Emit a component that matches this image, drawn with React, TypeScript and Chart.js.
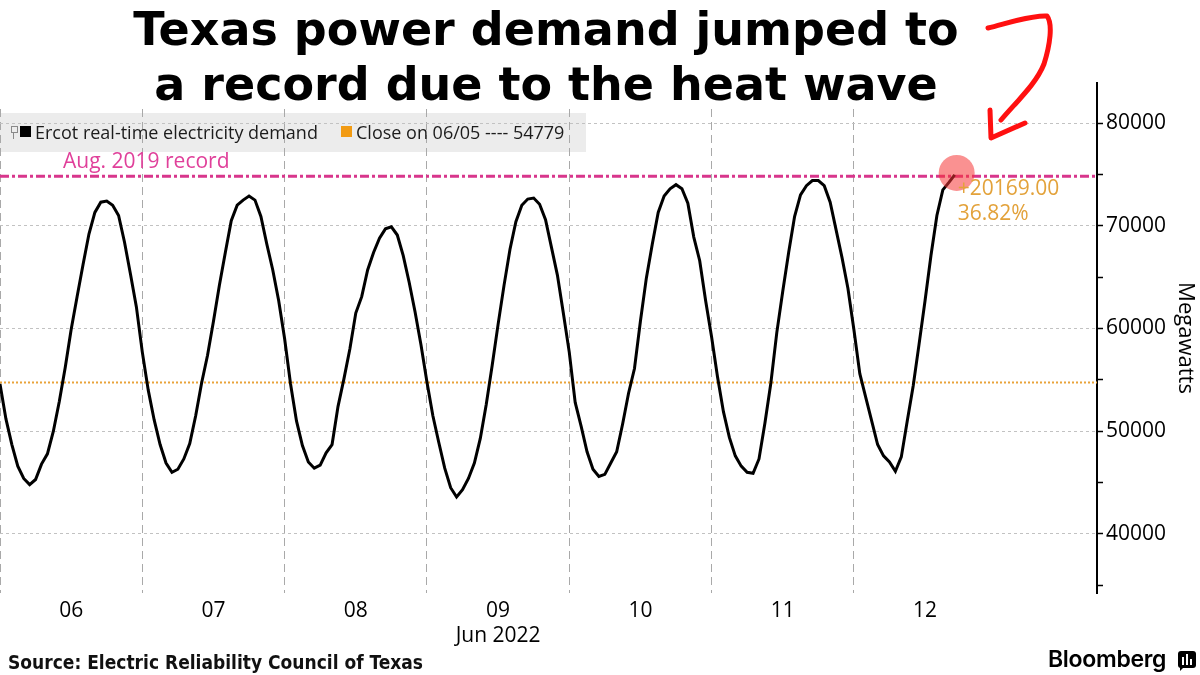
import React, { useEffect, useRef } from "react";
import { Chart, registerables } from "chart.js";

Chart.register(...registerables);

// Hourly ERCOT real-time demand in MW, each array starting at midnight of that day
const demandJun06 = [54600, 51200, 48700, 46600, 45400, 44800, 45300, 46800, 47800, 50000, 52900, 56200, 59900, 63100, 66200, 69200, 71300, 72300, 72400, 72000, 71000, 68400, 65300, 62100];
const demandJun07 = [57700, 54000, 51100, 48700, 46900, 46000, 46300, 47300, 48800, 51500, 54700, 57400, 60700, 64200, 67400, 70500, 72000, 72500, 72900, 72500, 70900, 68200, 65700, 62700];
const demandJun08 = [59000, 54600, 51000, 48600, 47000, 46400, 46700, 47900, 48700, 52400, 55100, 58000, 61500, 63100, 65700, 67400, 68800, 69700, 69900, 69100, 67100, 64500, 61600, 58400];
const demandJun09 = [54800, 51500, 48900, 46400, 44500, 43600, 44300, 45400, 46900, 49300, 52600, 56400, 60400, 64200, 67700, 70400, 72000, 72600, 72700, 72100, 70600, 67900, 65200, 61500];
const demandJun10 = [57700, 52800, 50500, 48000, 46300, 45600, 45800, 46900, 48000, 50700, 53700, 56100, 60700, 64900, 68200, 71300, 72900, 73600, 74000, 73600, 72200, 68900, 66600, 62700];
const demandJun11 = [59200, 55300, 51900, 49400, 47600, 46600, 46000, 45900, 47300, 50800, 54700, 59600, 63600, 67400, 70900, 73000, 73900, 74400, 74400, 73900, 72300, 69600, 66900, 63900];
const demandJun12 = [59900, 55600, 53300, 51000, 48700, 47600, 47000, 46100, 47500, 51000, 54400, 58500, 62700, 67100, 71000, 73500, 74200, 74948];

const dailyDemand = [demandJun06, demandJun07, demandJun08, demandJun09, demandJun10, demandJun11, demandJun12];
const dayLabels = ["06", "07", "08", "09", "10", "11", "12"];
const monthLabel = "Jun 2022";
const monthLabelDay = "09";

const prevCloseDate = "06/05";
const prevClose = 54779;
const record2019 = 74820;
const recordLabel = "Aug. 2019 record";

const yTickValues = [35000, 40000, 45000, 50000, 55000, 60000, 65000, 70000, 75000, 80000];
const yMin = 34250;
const yMax = 83900;
const xMaxHours = 185;

const seriesName = "Ercot real-time electricity demand";

const points = dailyDemand.flatMap((day, d) => day.map((v, h) => ({ x: d * 24 + h, y: v })));
const lastValue = points[points.length - 1].y;
const change = lastValue - prevClose;
const changePct = (change / prevClose) * 100;

const OPEN = '"Open Sans", "DejaVu Sans", sans-serif';

const annotationPlugin = {
  id: "ercotAnnotations",
  beforeDraw(chart: any) {
    const { ctx } = chart;
    ctx.save();
    ctx.fillStyle = "#ececec";
    ctx.fillRect(0, 113, 586, 39);
    ctx.restore();
  },
  beforeDatasetsDraw(chart: any) {
    const { ctx, chartArea, scales } = chart;
    const y = scales.y;
    ctx.save();
    // previous close level
    const yc = Math.round(y.getPixelForValue(prevClose)) + 0.5;
    ctx.strokeStyle = "#E9A33A";
    ctx.lineWidth = 2;
    ctx.setLineDash([2, 2]);
    ctx.beginPath();
    ctx.moveTo(chartArea.left, yc);
    ctx.lineTo(chartArea.right, yc);
    ctx.stroke();
    // 2019 record level
    const yr = y.getPixelForValue(record2019);
    ctx.strokeStyle = "#D8368C";
    ctx.lineWidth = 3;
    ctx.setLineDash([9, 3, 3, 3]);
    ctx.beginPath();
    ctx.moveTo(chartArea.left, yr);
    ctx.lineTo(chartArea.right, yr);
    ctx.stroke();
    ctx.setLineDash([]);
    ctx.fillStyle = "#E0409A";
    ctx.font = `21px ${OPEN}`;
    ctx.textBaseline = "alphabetic";
    ctx.fillText(recordLabel, 63, yr - 8);
    ctx.restore();
  },
  afterDatasetsDraw(chart: any) {
    const { ctx } = chart;
    const meta = chart.getDatasetMeta(0);
    const last = meta.data[meta.data.length - 1];
    ctx.save();
    ctx.fillStyle = "rgba(245, 55, 55, 0.55)";
    ctx.beginPath();
    ctx.arc(last.x + 2, last.y - 2, 18, 0, Math.PI * 2);
    ctx.fill();
    ctx.fillStyle = "#E3A23A";
    ctx.font = `21px ${OPEN}`;
    ctx.textBaseline = "alphabetic";
    ctx.fillText(`+${change.toFixed(2)}`, last.x + 3, last.y + 20);
    ctx.fillText(`${changePct.toFixed(2)}%`, last.x + 3, last.y + 45);
    ctx.restore();
  },
};

export default function App() {
  const canvasRef = useRef<HTMLCanvasElement>(null);

  useEffect(() => {
    const chart = new Chart(canvasRef.current as HTMLCanvasElement, {
      type: "line",
      data: {
        datasets: [
          {
            label: seriesName,
            data: points,
            borderColor: "#000000",
            borderWidth: 3,
            pointRadius: 0,
            tension: 0,
            fill: false,
          },
        ],
      },
      options: {
        animation: false,
        responsive: false,
        devicePixelRatio: 1,
        layout: { padding: { top: 83, left: 0, right: 0, bottom: 0 } },
        plugins: { legend: { display: false }, tooltip: { enabled: false } },
        scales: {
          x: {
            type: "linear",
            min: 0,
            max: xMaxHours,
            afterBuildTicks: (scale: any) => {
              const ticks = [];
              for (let i = 0; i < dayLabels.length; i++) {
                ticks.push({ value: i * 24 });
                ticks.push({ value: i * 24 + 12 });
              }
              scale.ticks = ticks;
            },
            afterFit: (scale: any) => {
              scale.height = 82;
              scale.paddingLeft = 0;
              scale.paddingRight = 0;
            },
            ticks: {
              autoSkip: false,
              maxRotation: 0,
              minRotation: 0,
              padding: 5,
              color: "#000",
              font: { family: OPEN, size: 21 },
              callback: (value: any) => {
                const v = Number(value);
                if (v % 24 !== 12) return "";
                const label = dayLabels[Math.floor(v / 24)];
                return label === monthLabelDay ? [label, monthLabel] : label;
              },
            },
            grid: {
              drawTicks: false,
              lineWidth: 1,
              color: (ctx: any) => (ctx.tick && ctx.tick.value % 24 === 0 ? "#a9a9a9" : "rgba(0,0,0,0)"),
            },
            border: { display: false, dash: [8, 5] },
          },
          y: {
            position: "right",
            min: yMin,
            max: yMax,
            afterBuildTicks: (scale: any) => {
              scale.ticks = yTickValues.map((v) => ({ value: v }));
            },
            afterFit: (scale: any) => {
              scale.width = 103;
            },
            ticks: {
              padding: 3,
              color: "#000",
              font: { family: OPEN, size: 21 },
              callback: (value: any) => (Number(value) % 10000 === 0 ? String(value) : ""),
            },
            grid: {
              drawTicks: true,
              tickLength: 6,
              tickWidth: 1.5,
              tickColor: "#000",
              lineWidth: 1,
              color: (ctx: any) => (ctx.tick && ctx.tick.value % 10000 === 0 ? "#c2c2c2" : "rgba(0,0,0,0)"),
            },
            border: { display: true, color: "#000", width: 2, dash: [3, 3] },
            title: {
              display: true,
              text: "Megawatts",
              color: "#000",
              font: { family: OPEN, size: 22 },
              padding: { top: 2, bottom: 2 },
            },
          },
        },
      },
      plugins: [annotationPlugin],
    } as any);
    return () => chart.destroy();
  }, []);

  const legendText: React.CSSProperties = {
    position: "absolute",
    top: 113,
    height: 38,
    lineHeight: "38px",
    fontFamily: OPEN,
    fontSize: 18,
    color: "#1c1c1c",
    whiteSpace: "nowrap",
  };

  return (
    <div style={{ position: "absolute", left: 0, top: 0, width: 1200, height: 675, background: "#fff", overflow: "hidden" }}>
      <canvas ref={canvasRef} width={1200} height={675} style={{ position: "absolute", left: 0, top: 0 }} />

      {/* headline */}
      <div style={{ position: "absolute", left: 0, top: 0, width: 1094, height: 108, background: "#fff" }}>
        <div
          style={{
            position: "absolute",
            left: 0,
            top: 2,
            width: 1092,
            textAlign: "center",
            fontFamily: '"DejaVu Sans", sans-serif',
            fontWeight: 700,
            fontSize: 46,
            lineHeight: "55px",
            color: "#000",
          }}
        >
          <div>Texas power demand jumped to</div>
          <div>a record due to the heat wave</div>
        </div>
      </div>

      {/* legend */}
      <div style={{ position: "absolute", left: 11, top: 126, width: 5, height: 5, border: "1px solid #8a8a8a" }} />
      <div style={{ position: "absolute", left: 13, top: 133, width: 1, height: 6, background: "#8a8a8a" }} />
      <div style={{ position: "absolute", left: 20, top: 126, width: 11, height: 11, background: "#000" }} />
      <div style={{ ...legendText, left: 35 }}>{seriesName}</div>
      <div style={{ position: "absolute", left: 341, top: 126, width: 11, height: 11, background: "#F29B13" }} />
      <div style={{ ...legendText, left: 356 }}>{`Close on ${prevCloseDate} ---- ${prevClose}`}</div>

      {/* hand-drawn pointer */}
      <svg width={1200} height={675} style={{ position: "absolute", left: 0, top: 0, pointerEvents: "none" }}>
        <path
          d="M988,28 C1005,24 1030,15 1047,16 C1053,24 1050,45 1044,64 C1036,84 1018,100 1001,120"
          fill="none"
          stroke="#ff1010"
          strokeWidth={5}
          strokeLinecap="round"
          strokeLinejoin="round"
        />
        <path
          d="M990,110 L991,138 L1025,123"
          fill="none"
          stroke="#ff1010"
          strokeWidth={5}
          strokeLinecap="round"
          strokeLinejoin="round"
        />
      </svg>

      {/* footer */}
      <div
        style={{
          position: "absolute",
          left: 8,
          top: 651,
          fontFamily: '"DejaVu Sans Condensed", "DejaVu Sans", sans-serif',
          fontStretch: "condensed",
          fontWeight: 700,
          fontSize: 19,
          lineHeight: "22px",
          color: "#111",
          whiteSpace: "nowrap",
        }}
      >
        Source: Electric Reliability Council of Texas
      </div>
      <div
        style={{
          position: "absolute",
          left: 1048,
          top: 646,
          fontFamily: "Inter, Roboto, sans-serif",
          fontWeight: 600,
          fontSize: 23,
          lineHeight: "27px",
          color: "#000",
          letterSpacing: -0.3,
          whiteSpace: "nowrap",
        }}
      >
        Bloomberg
      </div>
      <div style={{ position: "absolute", left: 1178, top: 651, width: 18, height: 17, background: "#000", borderRadius: 3 }}>
        <div style={{ position: "absolute", left: 4, top: 6, width: 2, height: 8, background: "#fff" }} />
        <div style={{ position: "absolute", left: 8, top: 3, width: 2, height: 11, background: "#fff" }} />
        <div style={{ position: "absolute", left: 12, top: 8, width: 2, height: 6, background: "#fff" }} />
      </div>
      <div style={{ position: "absolute", left: 1180, top: 667, width: 0, height: 0, borderLeft: "4px solid #000", borderBottom: "4px solid transparent" }} />
    </div>
  );
}
